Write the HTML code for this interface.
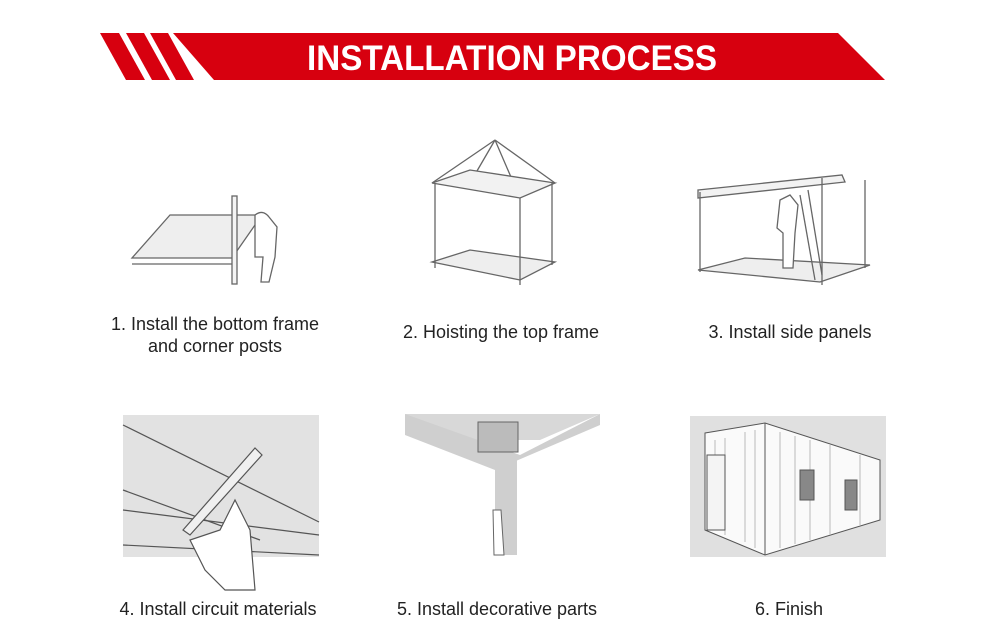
<!DOCTYPE html>
<html><head><meta charset="utf-8"><style>
html,body{margin:0;padding:0;background:#fff;}
body{width:1000px;height:644px;position:relative;overflow:hidden;font-family:"Liberation Sans",sans-serif;}
.t{position:absolute;font-size:18px;color:#222;text-align:center;width:300px;line-height:22px;}
</style></head><body>
<svg width="1000" height="644" style="position:absolute;left:0;top:0">
<!-- banner -->
<polygon points="100,33 119,33 145,80 126,80" fill="#d7000f"/>
<polygon points="126,33 144,33 170,80 152,80" fill="#d7000f"/>
<polygon points="150,33 168,33 194,80 176,80" fill="#d7000f"/>
<polygon points="173,33 838,33 885,80 214,80" fill="#d7000f"/>
<text x="512" y="70" font-family="Liberation Sans" font-weight="bold" font-size="35" fill="#fff" text-anchor="middle" textLength="410" lengthAdjust="spacingAndGlyphs">INSTALLATION PROCESS</text>

<g fill="none" stroke="#666" stroke-width="1.3">
<!-- img1 -->
<polygon points="132,258 232,258 262,215 170,215" fill="#eee"/>
<line x1="132" y1="264" x2="232" y2="264"/>
<rect x="232" y="196" width="5" height="88" fill="#f4f4f4"/>
<path d="M255,215 q8,-6 14,2 l8,10 l-2,30 l-6,25 l-8,0 l2,-25 l-8,0 z" fill="#fff"/>
<!-- img2 -->
<line x1="495" y1="140" x2="432" y2="183"/><line x1="495" y1="140" x2="520" y2="198"/><line x1="495" y1="140" x2="555" y2="183"/><line x1="495" y1="140" x2="470" y2="183"/>
<polygon points="432,183 520,198 555,183 470,170" fill="#f2f2f2"/>
<polygon points="432,262 520,280 555,262 470,250" fill="#eee"/>
<line x1="435" y1="183" x2="435" y2="268"/><line x1="520" y1="198" x2="520" y2="285"/><line x1="552" y1="183" x2="552" y2="265"/>
<!-- img3 -->
<polygon points="698,190 842,175 845,182 698,198" fill="#f2f2f2"/>
<polygon points="698,270 820,282 870,265 745,258" fill="#eee"/>
<line x1="700" y1="192" x2="700" y2="272"/><line x1="822" y1="178" x2="822" y2="285"/><line x1="865" y1="180" x2="865" y2="268"/>
<path d="M780,200 l10,-5 l8,10 l-3,28 l-2,35 l-10,0 l0,-35 l-6,-5 z" fill="#fff"/>
<line x1="800" y1="195" x2="815" y2="280"/><line x1="808" y1="190" x2="822" y2="275"/>
</g>
<!-- img4 -->
<rect x="123" y="415" width="196" height="142" fill="#e2e2e2"/>
<g fill="none" stroke="#555" stroke-width="1.2">
<line x1="123" y1="425" x2="319" y2="522"/><line x1="123" y1="490" x2="260" y2="540"/><line x1="123" y1="510" x2="319" y2="535"/>
<line x1="123" y1="545" x2="319" y2="555"/>
<polygon points="183,530 255,448 262,455 190,535" fill="#f0f0f0"/>
<path d="M190,540 l15,30 l20,20 l30,0 l-5,-60 l-15,-30 l-10,20 l-5,10 z" fill="#fff"/>
</g>
<!-- img5 -->
<polygon points="405,414 600,414 540,440 430,440" fill="#d8d8d8"/>
<polygon points="405,414 405,435 495,470 600,425 600,414 520,455" fill="#cfcfcf"/>
<rect x="478" y="422" width="40" height="30" fill="#bbb" stroke="#666"/>
<rect x="495" y="460" width="22" height="95" fill="#cfcfcf"/>
<path d="M493,510 l8,0 l3,45 l-10,0 z" fill="#fff" stroke="#666"/>
<!-- img6 -->
<rect x="690" y="416" width="196" height="141" fill="#e0e0e0"/>
<polygon points="705,433 765,423 880,460 880,520 765,555 705,530" fill="#fafafa" stroke="#555"/>
<line x1="765" y1="423" x2="765" y2="555" stroke="#555"/>
<g stroke="#bbb" stroke-width="1">
<line x1="715" y1="440" x2="715" y2="530"/><line x1="725" y1="438" x2="725" y2="535"/><line x1="745" y1="432" x2="745" y2="542"/><line x1="755" y1="430" x2="755" y2="548"/>
<line x1="780" y1="432" x2="780" y2="548"/><line x1="795" y1="436" x2="795" y2="544"/><line x1="810" y1="440" x2="810" y2="540"/><line x1="830" y1="445" x2="830" y2="535"/><line x1="860" y1="455" x2="860" y2="525"/>
</g>
<rect x="707" y="455" width="18" height="75" fill="#f4f4f4" stroke="#555"/>
<rect x="800" y="470" width="14" height="30" fill="#888" stroke="#555"/>
<rect x="845" y="480" width="12" height="30" fill="#888" stroke="#555"/>
</svg>
<div class="t" style="left:65px;top:313px">1. Install the bottom frame<br>and corner posts</div>
<div class="t" style="left:351px;top:321px">2. Hoisting the top frame</div>
<div class="t" style="left:640px;top:321px">3. Install side panels</div>
<div class="t" style="left:68px;top:598px">4. Install circuit materials</div>
<div class="t" style="left:347px;top:598px">5. Install decorative parts</div>
<div class="t" style="left:639px;top:598px">6. Finish</div>
</body></html>
